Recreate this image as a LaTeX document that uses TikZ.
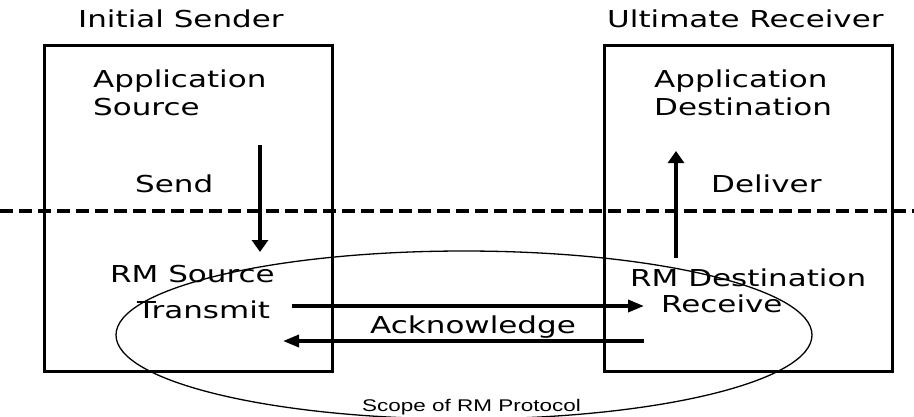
\documentclass[tikz,border=0pt]{standalone}
\usepackage{fontspec}
\setmainfont{DejaVu Sans}[FakeStretch=1.33]
\newfontfamily\scopefont{Liberation Sans}[FakeStretch=1.33]
\usetikzlibrary{arrows.meta,shapes.geometric}
\begin{document}
\begin{tikzpicture}[x=1pt,y=-1pt,
  lbl/.style={anchor=base west,inner sep=0pt,font=\fontsize{23.3}{28}\selectfont,align=left},
  scopelbl/.style={anchor=base west,inner sep=0pt,font=\scopefont\fontsize{16.9}{20}\selectfont},
  boxframe/.style={draw,line width=3pt},
  vflow/.style={line width=4pt,-{Triangle[length=12pt,width=16pt]}},
  hflow/.style={line width=3.5pt,-{Triangle[length=16pt,width=12pt]}},
  divider/.style={line width=3.5pt,dash pattern=on 13pt off 6pt},
  scopering/.style={draw,line width=1.3pt}]
\useasboundingbox (0,0) rectangle (914,416);
% boxes
\node[boxframe,minimum width=288pt,minimum height=326pt,inner sep=0pt] (sbox) at (188,208) {};
\node[boxframe,minimum width=288pt,minimum height=326pt,inner sep=0pt] (rbox) at (748,208) {};
% titles
\node[lbl] (sender) at (78,27) {Initial Sender};
\node[lbl] (receiver) at (607,27) {Ultimate Receiver};
\node[lbl] (appsrc) at (93,115) {Application\\Source};
\node[lbl] (appdst) at (654,115) {Application\\Destination};
\node[lbl] (send) at (135,192) {Send};
\node[lbl] (deliver) at (711,192) {Deliver};
\node[lbl] (rmsrc) at (110,282) {RM Source};
\node[lbl] (transmit) at (137,318) {Transmit};
\node[lbl] (ack) at (370,333) {Acknowledge};
\node[lbl] (rmdst) at (630,286) {RM Destination};
\node[lbl] (receive) at (661,312) {Receive};
% divider
\coordinate (dl) at (0,211);
\coordinate (dr) at (914,211);
\draw[divider] (dl) -- (dr);
% ellipse
\node[scopering,ellipse,minimum width=696pt,minimum height=168pt,inner sep=0pt] (scope) at (464,335) {};
\node[scopelbl] (scopetxt) at (362,411) {Scope of RM Protocol};
% arrows
\coordinate (s1) at (260,145);
\coordinate (s2) at (260,252);
\coordinate (d1) at (676,258);
\coordinate (d2) at (676,151);
\coordinate (t1) at (292,306);
\coordinate (t2) at (644,306);
\coordinate (a1) at (644,341);
\coordinate (a2) at (283,341);
\draw[vflow] (s1) -- (s2);
\draw[vflow] (d1) -- (d2);
\draw[hflow] (t1) -- (t2);
\draw[hflow] (a1) -- (a2);
\end{tikzpicture}
\end{document}
